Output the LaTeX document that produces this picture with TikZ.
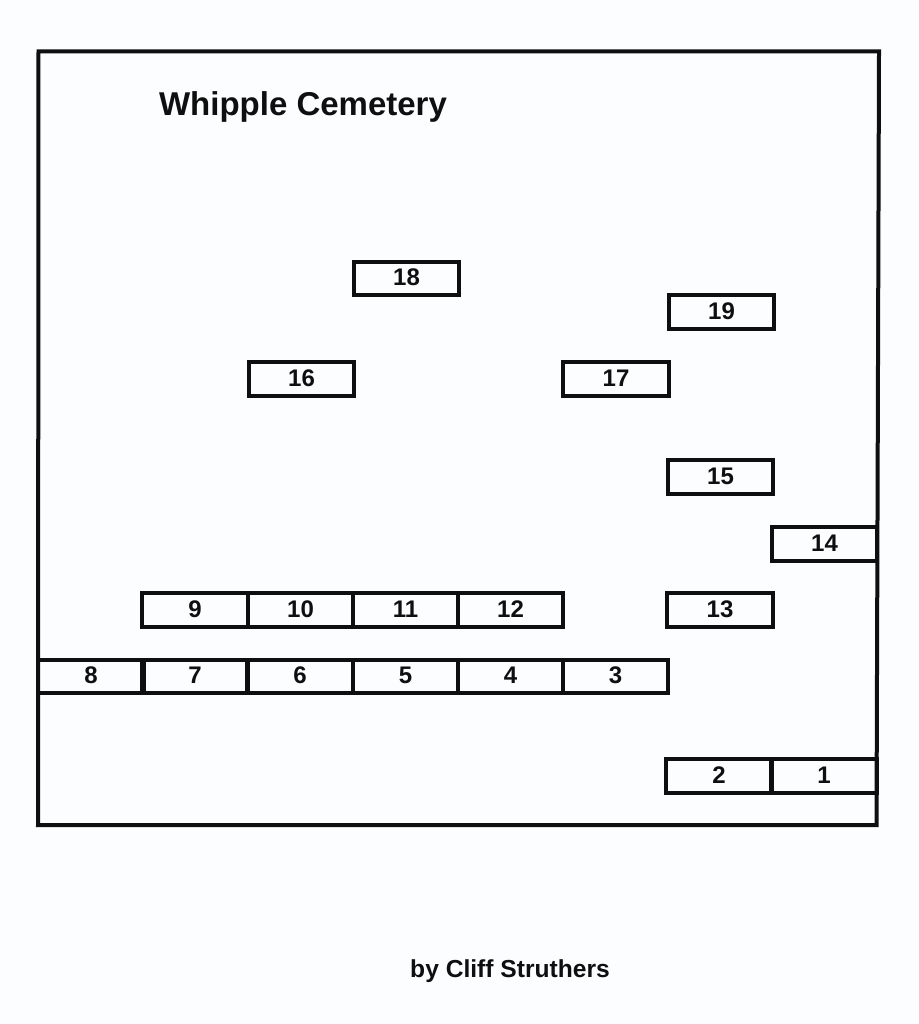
\documentclass[tikz,border=0pt]{standalone}
\usepackage{fontspec}
\setmainfont{Liberation Sans}
\usepackage{xcolor}
\definecolor{scanpaper}{HTML}{FBFDFE}
\definecolor{scanink}{HTML}{0F0F0F}
\tikzset{
    plotbox/.style={draw=scanink, line width=3.8pt, minimum width=105.5pt, minimum height=33.5pt, inner sep=0pt, text depth=2pt, font=\bfseries\fontsize{24}{24}\selectfont, text=scanink},
    titletext/.style={font=\bfseries\fontsize{33}{33}\selectfont, text=scanink, inner sep=0pt}
}

\begin{document}
\begin{tikzpicture}[x=1pt,y=-1pt]
    \fill[scanpaper] (0,0) rectangle (918,1024);
    \useasboundingbox (0,0) rectangle (918,1024);
    \draw[scanink, line width=4pt] (38.5,51.5) -- (879,51.5) -- (876.5,825) -- (38,825) -- cycle;
    \node[titletext] (title) at (303,107) {Whipple Cemetery};
    \node[titletext, font=\bfseries\fontsize{24.6}{24.6}\selectfont] (byline) at (510,971) {by Cliff Struthers};
    % loose plots
    \node[plotbox] (p18) at (406.5,278.5) {18};
    \node[plotbox] (p19) at (721.5,312) {19};
    \node[plotbox] (p16) at (301.5,379) {16};
    \node[plotbox] (p17) at (616,379) {17};
    \node[plotbox] (p15) at (720.5,477) {15};
    \node[plotbox] (p14) at (824.5,544) {14};
    \node[plotbox] (p13) at (720,610) {13};
    % rows of plots
    \foreach \n/\x in {9/195,10/300.5,11/405.5,12/510.5}
        \node[plotbox] (p\n) at (\x,610) {\n};
    \foreach \n/\x in {8/91,7/195,6/300,5/405.5,4/510.5,3/615.5}
        \node[plotbox] (p\n) at (\x,676.5) {\n};
    \foreach \n/\x in {2/719,1/824}
        \node[plotbox] (p\n) at (\x,776) {\n};
\end{tikzpicture}
\end{document}
